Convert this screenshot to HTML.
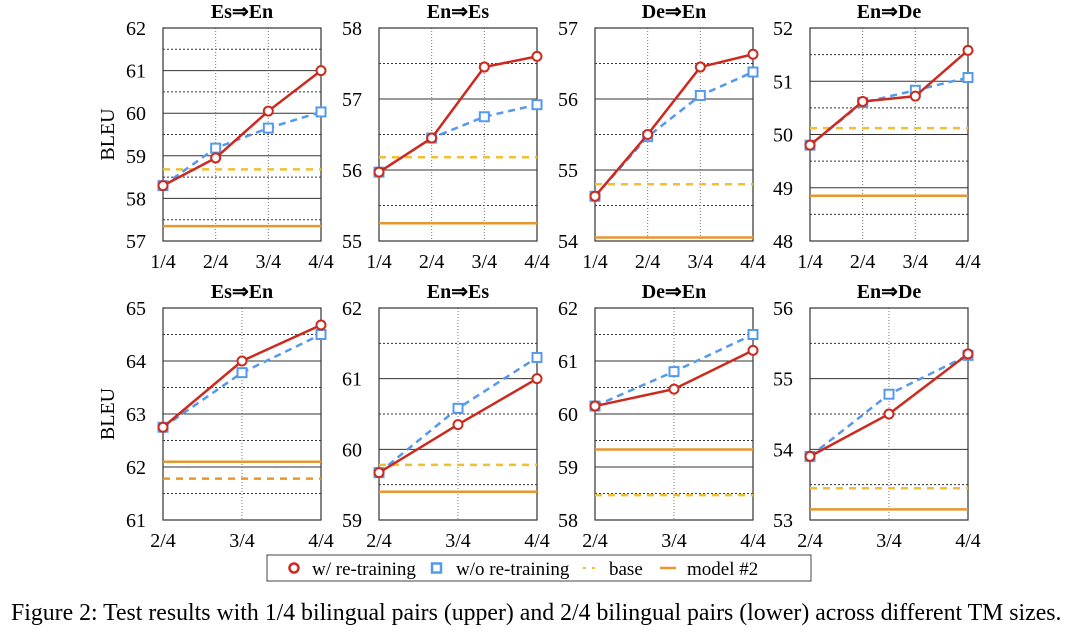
<!DOCTYPE html>
<html><head><meta charset="utf-8"><style>
body{margin:0;background:#fff;}
svg{display:block;font-family:"Liberation Serif",serif;}
</style></head><body>
<svg id="c" width="1080" height="634"></svg>
<script>
const titles=["Es⇒En","En⇒Es","De⇒En","En⇒De","Es⇒En","En⇒Es","De⇒En","En⇒De"];
const xTop=["1/4","2/4","3/4","4/4"];
const xBot=["2/4","3/4","4/4"];
const yMin=[57,55,54,48,61,59,58,53];
const yMax=[62,58,57,52,65,62,62,56];
const redVals=[[58.3,58.95,60.05,61.0],[55.97,56.45,57.45,57.6],[54.63,55.5,56.45,56.63],[49.8,50.62,50.72,51.58],
[62.75,64.0,64.68],[59.67,60.35,61.0],[60.15,60.47,61.2],[53.9,54.5,55.35]];
const blueVals=[[58.3,59.18,59.65,60.03],[55.97,56.45,56.75,56.92],[54.63,55.47,56.05,56.38],[49.8,50.6,50.83,51.07],
[62.75,63.78,64.5],[59.67,60.58,61.3],[60.15,60.8,61.5],[53.9,54.78,55.33]];
const baseVals=[58.68,56.18,54.8,50.12,61.78,59.78,58.47,53.45];
const model2Vals=[57.35,55.25,54.05,48.85,62.1,59.4,59.33,53.15];

const NS="http://www.w3.org/2000/svg";
const svg=document.getElementById('c');
function el(t,a,p){const e=document.createElementNS(NS,t);for(const k in a)e.setAttribute(k,a[k]);(p||svg).appendChild(e);return e;}
const lefts=[163,379,595,810], W=158;
for(let i=0;i<8;i++){
  const row=i<4?0:1, L=lefts[i%4], T=row?308:28, B=row?520:241;
  const cats=row?xBot:xTop;
  const g=el('g',{});
  
  
  const xs=k=>L+W*k/(cats.length-1);
  const ys=v=>B-(v-yMin[i])/(yMax[i]-yMin[i])*(B-T);
  for(let v=yMin[i];v<=yMax[i];v+=0.5){
    const y=ys(v);
    if(Number.isInteger(v)){
      if(v>yMin[i]&&v<yMax[i]) el('line',{x1:L,x2:L+W,y1:y,y2:y,stroke:'#333','stroke-width':1},g);
      const t=el('text',{x:L-17,y:y+7,'text-anchor':'end','font-size':20},g);t.textContent=v;
      
    } else el('line',{x1:L,x2:L+W,y1:y,y2:y,stroke:'#333','stroke-width':1,'stroke-dasharray':'2,2'},g);
  }
  cats.forEach((c,k)=>{
    if(k>0&&k<cats.length-1) el('line',{x1:xs(k),x2:xs(k),y1:T,y2:B,stroke:'#777','stroke-width':1,'stroke-dasharray':'1,2'},g);
    const t=el('text',{x:xs(k),y:B+27,'text-anchor':'middle','font-size':20},g);t.textContent=c;
    
  });
  el('rect',{x:L,y:T,width:W,height:B-T,fill:'none',stroke:'#333','stroke-width':1.2},g);
  const tt=el('text',{x:L+W/2,y:T-10,'text-anchor':'middle','font-size':20,'font-weight':'bold'},g);tt.textContent=titles[i];
  
  const bl=el('line',{x1:L,x2:L+W,y1:ys(baseVals[i]),y2:ys(baseVals[i]),stroke:i==4?'#e8962e':'#f0c030','stroke-width':2.5,'stroke-dasharray':'7,6'},g);
  
  const ml=el('line',{x1:L,x2:L+W,y1:ys(model2Vals[i]),y2:ys(model2Vals[i]),stroke:'#e8962e','stroke-width':2.5},g);
  
  const bp=blueVals[i].map((v,k)=>xs(k)+','+ys(v)).join(' ');
  const bline=el('polyline',{points:bp,fill:'none',stroke:'#5599ee','stroke-width':2.5,'stroke-dasharray':'7,5'},g);
  
  blueVals[i].forEach((v,k)=>{const r=el('rect',{x:xs(k)-4.5,y:ys(v)-4.5,width:9,height:9,fill:'#fff',stroke:'#5599ee','stroke-width':2},g);
    });
  const rp=redVals[i].map((v,k)=>xs(k)+','+ys(v)).join(' ');
  const rline=el('polyline',{points:rp,fill:'none',stroke:'#cc2a1e','stroke-width':2.5},g);
  
  redVals[i].forEach((v,k)=>{const c=el('circle',{cx:xs(k),cy:ys(v),r:4.5,fill:'#fff',stroke:'#cc2a1e','stroke-width':2},g);
    });
  if(i%4==0){const t=el('text',{transform:`translate(114,${(T+B)/2}) rotate(-90)`,'text-anchor':'middle','font-size':20},g);t.textContent='BLEU';
    }
}
// legend
const lg=el('g',{});


el('rect',{x:267,y:555,width:544,height:26,fill:'#fff',stroke:'#444','stroke-width':1},lg);
el('circle',{cx:294,cy:568,r:4.5,fill:'#fff',stroke:'#cc2a1e','stroke-width':2.5},lg);
el('rect',{x:432,y:563.5,width:9,height:9,fill:'#fff',stroke:'#5599ee','stroke-width':2.5},lg);
el('line',{x1:583,x2:597,y1:568,y2:568,stroke:'#f0c030','stroke-width':2,'stroke-dasharray':'3,6'},lg);
el('line',{x1:660,x2:676,y1:568,y2:568,stroke:'#e8962e','stroke-width':2.5},lg);
[[312,'w/ re-training'],[456,'w/o re-training'],[609,'base'],[687,'model #2']].forEach(([x,s])=>{
  const t=el('text',{x:x,y:575,'font-size':19},lg);t.textContent=s;
  });
const cap=el('text',{x:11,y:620,'font-size':23.8});
cap.textContent='Figure 2: Test results with 1/4 bilingual pairs (upper) and 2/4 bilingual pairs (lower) across different TM sizes.';

</script>
</body></html>
